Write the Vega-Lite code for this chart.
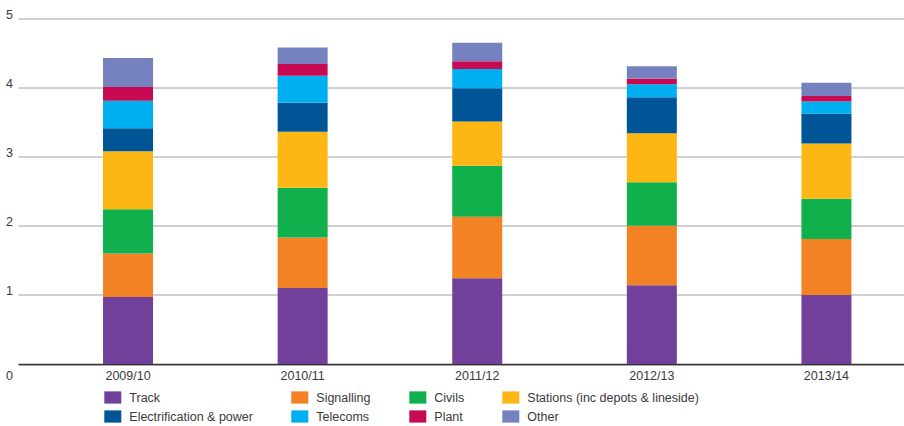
{
  "$schema": "https://vega.github.io/schema/vega-lite/v6.json",
  "autosize": {"type": "none"},
  "width": 886,
  "height": 345.5,
  "padding": {"left": 18, "top": 18.5, "right": 0, "bottom": 62},
  "background": "white",
  "data": {"values": [
    {"year": "2009/10", "cat": "Track", "k": 1, "v": 0.97},
    {"year": "2009/10", "cat": "Signalling", "k": 2, "v": 0.63},
    {"year": "2009/10", "cat": "Civils", "k": 3, "v": 0.64},
    {"year": "2009/10", "cat": "Stations (inc depots & lineside)", "k": 4, "v": 0.84},
    {"year": "2009/10", "cat": "Electrification & power", "k": 5, "v": 0.33},
    {"year": "2009/10", "cat": "Telecoms", "k": 6, "v": 0.40},
    {"year": "2009/10", "cat": "Plant", "k": 7, "v": 0.20},
    {"year": "2009/10", "cat": "Other", "k": 8, "v": 0.42},
    {"year": "2010/11", "cat": "Track", "k": 1, "v": 1.10},
    {"year": "2010/11", "cat": "Signalling", "k": 2, "v": 0.73},
    {"year": "2010/11", "cat": "Civils", "k": 3, "v": 0.72},
    {"year": "2010/11", "cat": "Stations (inc depots & lineside)", "k": 4, "v": 0.81},
    {"year": "2010/11", "cat": "Electrification & power", "k": 5, "v": 0.42},
    {"year": "2010/11", "cat": "Telecoms", "k": 6, "v": 0.39},
    {"year": "2010/11", "cat": "Plant", "k": 7, "v": 0.17},
    {"year": "2010/11", "cat": "Other", "k": 8, "v": 0.24},
    {"year": "2011/12", "cat": "Track", "k": 1, "v": 1.24},
    {"year": "2011/12", "cat": "Signalling", "k": 2, "v": 0.89},
    {"year": "2011/12", "cat": "Civils", "k": 3, "v": 0.74},
    {"year": "2011/12", "cat": "Stations (inc depots & lineside)", "k": 4, "v": 0.64},
    {"year": "2011/12", "cat": "Electrification & power", "k": 5, "v": 0.48},
    {"year": "2011/12", "cat": "Telecoms", "k": 6, "v": 0.28},
    {"year": "2011/12", "cat": "Plant", "k": 7, "v": 0.11},
    {"year": "2011/12", "cat": "Other", "k": 8, "v": 0.27},
    {"year": "2012/13", "cat": "Track", "k": 1, "v": 1.14},
    {"year": "2012/13", "cat": "Signalling", "k": 2, "v": 0.86},
    {"year": "2012/13", "cat": "Civils", "k": 3, "v": 0.63},
    {"year": "2012/13", "cat": "Stations (inc depots & lineside)", "k": 4, "v": 0.71},
    {"year": "2012/13", "cat": "Electrification & power", "k": 5, "v": 0.52},
    {"year": "2012/13", "cat": "Telecoms", "k": 6, "v": 0.19},
    {"year": "2012/13", "cat": "Plant", "k": 7, "v": 0.08},
    {"year": "2012/13", "cat": "Other", "k": 8, "v": 0.18},
    {"year": "2013/14", "cat": "Track", "k": 1, "v": 1.00},
    {"year": "2013/14", "cat": "Signalling", "k": 2, "v": 0.81},
    {"year": "2013/14", "cat": "Civils", "k": 3, "v": 0.58},
    {"year": "2013/14", "cat": "Stations (inc depots & lineside)", "k": 4, "v": 0.80},
    {"year": "2013/14", "cat": "Electrification & power", "k": 5, "v": 0.43},
    {"year": "2013/14", "cat": "Telecoms", "k": 6, "v": 0.18},
    {"year": "2013/14", "cat": "Plant", "k": 7, "v": 0.08},
    {"year": "2013/14", "cat": "Other", "k": 8, "v": 0.19}
  ]},
  "mark": {"type": "bar"},
  "encoding": {
    "x": {
      "field": "year", "type": "nominal", "sort": null,
      "scale": {"paddingInner": 0.7136, "paddingOuter": 0.394, "align": 0.618},
      "axis": {
        "title": null, "labelAngle": 0, "ticks": false, "grid": false,
        "domain": true, "domainColor": "#333333", "domainWidth": 1.5,
        "labelBaseline": "alphabetic", "labelPadding": 15.3,
        "labelFont": "Liberation Sans", "labelFontSize": 12.5, "labelColor": "#3a3a3a"
      }
    },
    "y": {
      "field": "v", "type": "quantitative", "aggregate": "sum", "stack": "zero",
      "scale": {"domain": [0, 5], "nice": false, "zero": true},
      "axis": {
        "title": null, "values": [0, 1, 2, 3, 4, 5], "ticks": false, "domain": false,
        "grid": true, "gridColor": "#a0a0a0", "gridWidth": 1,
        "labelBaseline": "alphabetic",
        "labelOffset": {"condition": {"test": "datum.value == 0", "value": 15.3}, "value": 0},
        "labelPadding": 5.5, "labelAlign": "right",
        "labelFont": "Liberation Sans", "labelFontSize": 12.5, "labelColor": "#3a3a3a"
      }
    },
    "color": {
      "field": "cat", "type": "nominal",
      "scale": {
        "domain": ["Track", "Signalling", "Civils", "Stations (inc depots & lineside)", "Electrification & power", "Telecoms", "Plant", "Other"],
        "range": ["#71409A", "#F38224", "#10B04C", "#FCB715", "#005596", "#00AFEF", "#C80A53", "#7682C0"]
      },
      "legend": {
        "title": null, "orient": "none", "legendX": 86.3, "legendY": 370.5,
        "direction": "horizontal", "columns": 4, "columnPadding": 38, "rowPadding": 4,
        "padding": 0, "offset": 0,
        "symbolType": "M-1,-0.72H1V0.72H-1Z", "symbolSize": 289, "symbolStrokeWidth": 0,
        "symbolOpacity": 1,
        "labelOffset": 8, "labelFont": "Liberation Sans", "labelFontSize": 12.5, "labelColor": "#3a3a3a",
        "labelLimit": 300
      }
    },
    "order": {"field": "k", "type": "quantitative", "sort": "ascending"}
  },
  "config": {
    "view": {"stroke": null},
    "legend": {"gridAlign": "each"}
  }
}
